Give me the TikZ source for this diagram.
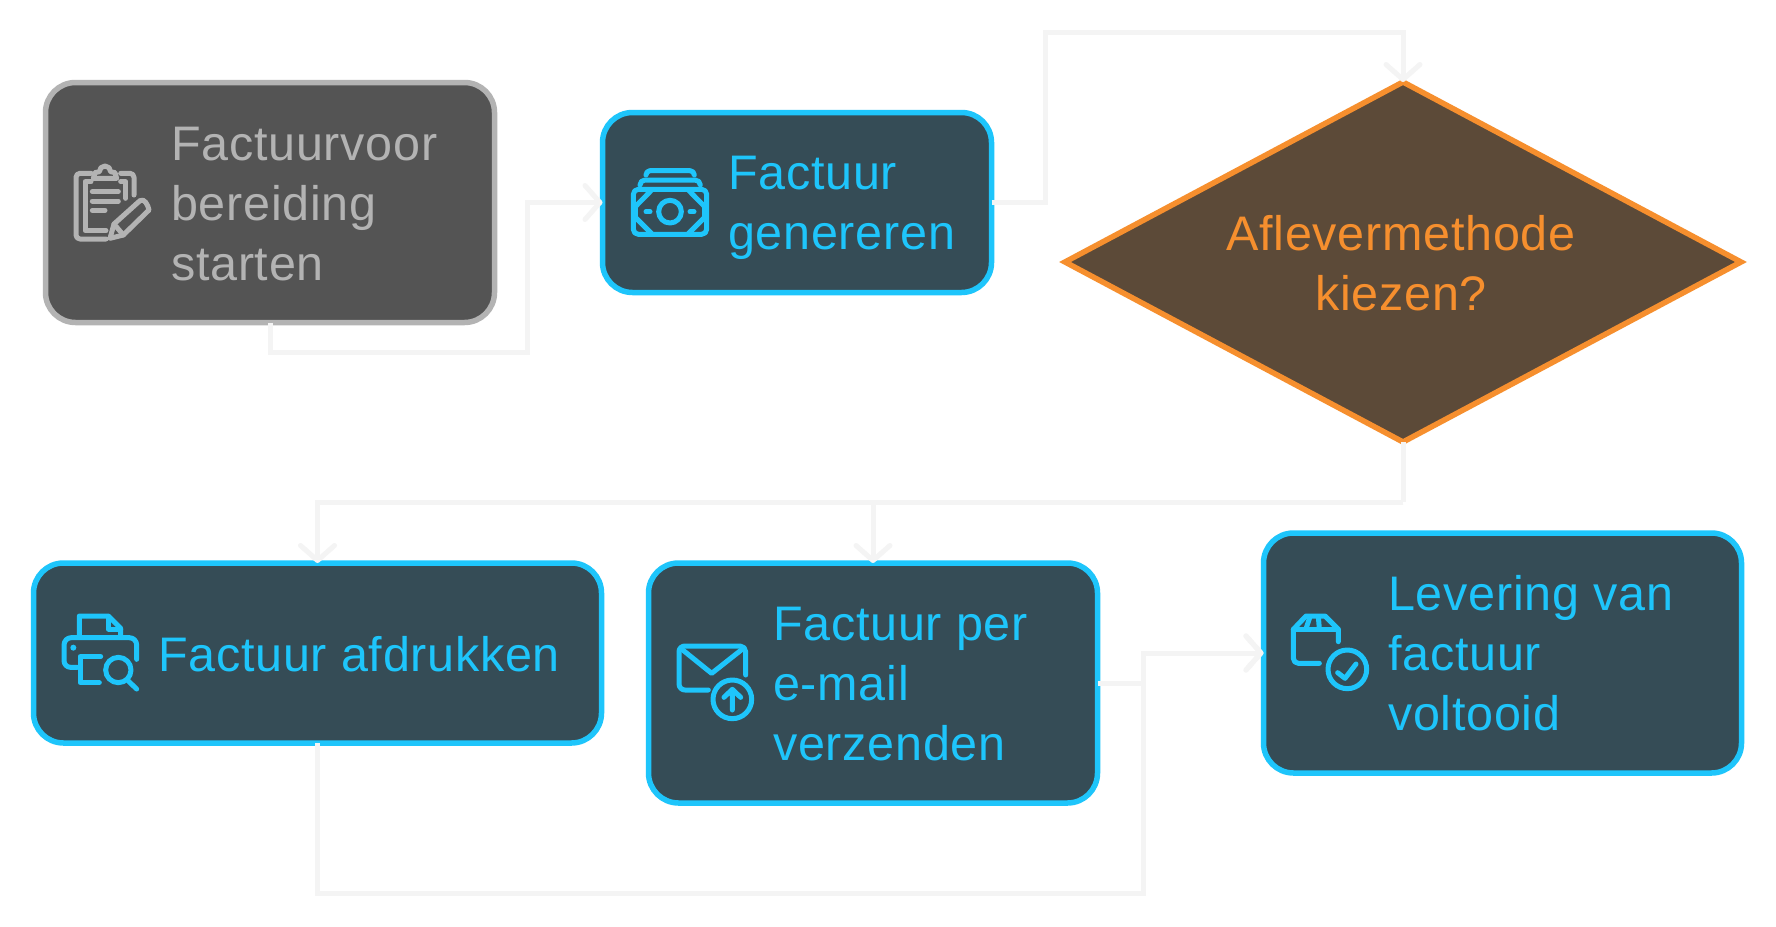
\documentclass[tikz,border=0pt]{standalone}
\usepackage{fontspec}
\setmainfont{Liberation Sans}[LetterSpace=1.5]
\usetikzlibrary{arrows.meta,shapes.geometric}
\definecolor{wire}{HTML}{F4F4F4}
\definecolor{idlefill}{HTML}{545454}
\definecolor{idleline}{HTML}{B3B3B3}
\definecolor{taskfill}{HTML}{354C56}
\definecolor{taskline}{HTML}{1EC5FB}
\definecolor{choicefill}{HTML}{5C4A38}
\definecolor{choiceline}{HTML}{F68F2E}
\tikzset{
  x=1pt,y=-1pt,
  boxbase/.style={rectangle,rounded corners=30pt,line width=5.5pt,inner sep=0pt,outer sep=0pt,anchor=center},
  idlebox/.style={boxbase,draw=idleline,fill=idlefill},
  taskbox/.style={boxbase,draw=taskline,fill=taskfill},
  choicebox/.style={diamond,aspect=1.89,inner sep=0pt,outer sep=0pt,line width=5.5pt,draw=choiceline,fill=choicefill},
  label/.style={inner sep=0pt,align=left,anchor=west,font=\fontsize{48.5}{60}\selectfont},
  wirepath/.style={draw=wire,line width=5pt},
  flow/.style={wirepath,-{Straight Barb[length=15pt,width=34pt,round,line width=5pt]}},
  glyphgrid/.style 2 args={shift={(#1pt,-#2pt)},x=0.33333pt,y=-0.33333pt},
  glyph/.style={line width=5pt,line cap=round,line join=round,draw=#1},
}
\begin{document}
\begin{tikzpicture}
\useasboundingbox[fill=white] (0,0) rectangle (1776,926);

% process boxes and the decision
\node[idlebox,minimum width=449pt,minimum height=240pt] (prep) at (270,202.5) {};
\node[taskbox,minimum width=389pt,minimum height=180pt] (gen) at (797,202.5) {};
\node[choicebox,minimum width=676pt,minimum height=360pt] (method) at (1403,262) {};
\node[taskbox,minimum width=568pt,minimum height=180pt] (print) at (317.5,653) {};
\node[taskbox,minimum width=449pt,minimum height=240pt] (mail) at (873,683) {};
\node[taskbox,minimum width=478pt,minimum height=240pt] (done) at (1502.5,653) {};

% labels
\node[label,text=idleline] (prepT) at (171,204) {Factuurvoor\\bereiding\\starten};
\node[label,text=taskline] (genT) at (728,207.5) {Factuur\\genereren};
\node[label,text=choiceline,align=center,anchor=center] (methodT) at (1401,263) {Aflevermethode\\kiezen?};
\node[label,text=taskline] (printT) at (158,654) {Factuur afdrukken};
\node[label,text=taskline] (mailT) at (773,684) {Factuur per\\e-mail\\verzenden};
\node[label,text=taskline] (doneT) at (1388,653.5) {Levering van\\factuur\\voltooid};

% connectors
\coordinate (split) at (1403,502);
\coordinate (merge) at (1143,653);
\path[flow] (prep.south) -- ++(0,30) -| (527,202.5) -- (gen.west);
\path[flow] (gen.east) -- (1045,202.5) |- (1403,32) -- (method.north);
\path[wirepath] (method.south) -- (split);
\path[flow] (split) -| (print.north);
\path[flow] (split) -| (mail.north);
\path[flow] (mail.east) -| (merge) -- (done.west);
\path[flow] (print.south) |- (1143,893) -- (merge) -- (done.west);

% clipboard and pencil
\begin{scope}[glyphgrid={30}{70},glyph=idleline]
  \draw (183,310) -- (150,310) to[out=180,in=90] (138,322) -- (138,495) to[out=-90,in=180] (150,507) -- (228,507);
  \draw (183,335) -- (165,335) -- (165,482) -- (228,482);
  \draw (272,310) -- (300,310) to[out=0,in=90] (312,322) -- (312,375);
  \draw (272,335) -- (287,335) -- (287,385);
  \draw (190,325) -- (195,308) -- (208,305) to[out=90,in=180] (225,288) to[out=0,in=90] (242,305) -- (255,308) -- (260,325) -- cycle;
  \draw (187,365) -- (265,365) (187,393) -- (265,393) (187,421) -- (225,421);
  \draw (240,505) -- (252,462) -- (330,392) to[out=35,in=100] (357,420) -- (280,495) -- cycle;
  \draw (252,462) -- (280,495);
\end{scope}

% banknotes
\begin{scope}[glyphgrid={590}{100},glyph=taskline]
  \draw[rounded corners=5pt] (130,268) rectangle (350,403);
  \draw (185,270) -- (136,320) -- (136,352) -- (185,401);
  \draw (295,270) -- (344,320) -- (344,352) -- (295,401);
  \draw (240,335) circle[radius=34];
  \draw (168,335) -- (180,335) (300,335) -- (312,335);
  \draw (150,255) to[out=90,in=180] (165,240) -- (315,240) to[out=0,in=90] (331,255);
  \draw (168,225) to[out=90,in=180] (180,212) -- (300,212) to[out=0,in=90] (313,225);
\end{scope}

% printer with magnifier
\begin{scope}[glyphgrid={40}{590},glyph=taskline]
  \draw (112,232) -- (92,232) to[out=180,in=-90] (72,212) -- (72,165) to[out=90,in=180] (94,143) -- (268,143) to[out=0,in=90] (290,165) -- (290,208);
  \draw (118,140) -- (118,78) -- (205,78) -- (242,115) -- (242,140);
  \draw (205,80) -- (205,117) -- (242,117);
  \fill[taskline] (100,173) circle[radius=9];
  \draw (182,200) -- (120,200) -- (120,278) -- (178,278);
  \draw (235,240) circle[radius=38];
  \draw (265,273) -- (290,297);
\end{scope}

% envelope with upload badge
\begin{scope}[glyphgrid={660}{620},glyph=taskline]
  \draw (145,210) -- (75,210) to[out=180,in=-90] (57,192) -- (57,95) to[out=90,in=180] (75,78) -- (240,78) to[out=0,in=90] (257,95) -- (257,165);
  \draw (62,85) -- (155,160) -- (250,85);
  \draw (217,238) circle[radius=58];
  \draw (217,270) -- (217,208) (192,232) -- (217,208) -- (242,232);
\end{scope}

% parcel with check badge
\begin{scope}[glyphgrid={1270}{600},glyph=taskline]
  \draw (148,190) -- (85,190) to[out=180,in=-90] (70,175) -- (70,88) -- (108,48) -- (165,48) -- (205,88) -- (205,125);
  \draw (70,88) -- (205,88);
  \draw (120,50) -- (108,86) (145,50) -- (148,86);
  \draw (232,208) circle[radius=58];
  \draw (203,218) -- (225,235) -- (258,192);
\end{scope}
\end{tikzpicture}
\end{document}
